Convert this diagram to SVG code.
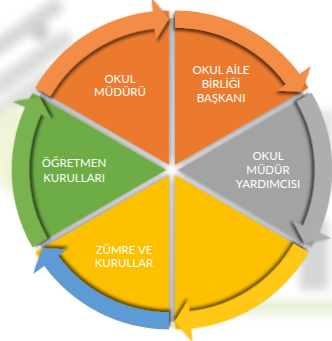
<svg xmlns="http://www.w3.org/2000/svg" xmlns:xlink="http://www.w3.org/1999/xlink" width="332" height="341" viewBox="0 0 332 341">
  <defs>
    <style>
      .lbl { font-family: Lato, "Liberation Sans", sans-serif; font-size: 11.5px; fill: #ffffff; text-anchor: middle; }
      .orange { fill: #EC7A2D; }
      .gray { fill: #A3A3A3; }
      .yellow { fill: #FDC000; }
      .green { fill: #6EAC45; }
      .blue { fill: #5B9BD5; }
      .bandorange { fill: #F38C45; }
      .bandgray { fill: #AEAEAE; }
      .bandyellow { fill: #FFC714; }
      .bandgreen { fill: #78B34F; }
    </style>
    <filter id="blur" x="-50%" y="-50%" width="200%" height="200%">
      <feGaussianBlur stdDeviation="4"/>
    </filter>
    <filter id="bandShadow" x="-20%" y="-20%" width="140%" height="140%">
      <feDropShadow dx="-1.6" dy="2.8" stdDeviation="1.8" flood-color="#000000" flood-opacity="0.6"/>
    </filter>
    <filter id="wedgeShadow" x="-20%" y="-20%" width="140%" height="140%">
      <feDropShadow dx="0" dy="1" stdDeviation="1.5" flood-color="#000000" flood-opacity="0.3"/>
    </filter>
    <radialGradient id="glow" cx="172" cy="170" r="152" gradientUnits="userSpaceOnUse">
      <stop offset="0" stop-color="#ffffff"/>
      <stop offset="0.1" stop-color="#d6d6d6"/>
      <stop offset="1" stop-color="#c4c4c4"/>
    </radialGradient>
    <!-- wedge spanning 0..60 degrees clockwise from up, apex at origin -->
    <path id="wedge" d="M0,0 L0,-154 A154,154 0 0 1 133.37,-77 Z"/>
    <!-- outer arrow band with head at 60 degrees -->
    <path id="band" d="M0,-154 A154,154 0 0 1 124.59,-90.52 L135.91,-98.75 L126.44,-73 L101.93,-74.06 L110.83,-80.53 A137,137 0 0 0 0,-137 Z"/>
  </defs>

  <rect x="0" y="0" width="332" height="341" fill="#ffffff"/>

  <!-- faded background photo -->
  <g id="background" filter="url(#blur)" opacity="0.85">
    <rect x="-20" y="20" width="90" height="16" rx="8" fill="#d0d0d0" transform="rotate(-35 25 28)"/>
    <rect x="-20" y="55" width="100" height="18" rx="9" fill="#d6d6d6" transform="rotate(-35 30 64)"/>
    <rect x="-25" y="90" width="90" height="16" rx="8" fill="#d8d8d8" transform="rotate(-35 20 98)"/>
    <circle cx="40" cy="32" r="9" fill="#c0c0c0"/>
    <ellipse cx="12" cy="150" rx="18" ry="45" fill="#eef3cf"/>
    <rect x="300" y="220" width="28" height="70" fill="#cfcfcf"/>
    <rect x="200" y="300" width="140" height="14" fill="#e3edcf"/>
    <rect x="305" y="110" width="30" height="40" fill="#e0e0e0"/>
  </g>

  <circle cx="172" cy="170" r="152" fill="url(#glow)"/>

  <g id="connectors"></g>

  <g id="node-okul-aile">
    <g transform="translate(175,164.8) rotate(0)">
      <use xlink:href="#wedge" class="orange" filter="url(#wedgeShadow)"/>
      <use xlink:href="#band" class="bandorange" filter="url(#bandShadow)"/>
    </g>
    <text class="lbl"><tspan x="221" y="74">OKUL AİLE</tspan><tspan x="221" y="88">BİRLİĞİ</tspan><tspan x="221" y="102">BAŞKANI</tspan></text>
  </g>

  <g id="node-mudur-yardimcisi">
    <g transform="translate(178,170) rotate(60)">
      <use xlink:href="#wedge" class="gray" filter="url(#wedgeShadow)"/>
      <use xlink:href="#band" class="bandgray" filter="url(#bandShadow)"/>
    </g>
    <text class="lbl"><tspan x="268" y="160">OKUL</tspan><tspan x="268" y="174">MÜDÜR</tspan><tspan x="268" y="188">YARDIMCISI</tspan></text>
  </g>

  <g id="node-yellow">
    <g transform="translate(175,175.2) rotate(120)">
      <use xlink:href="#wedge" class="yellow" filter="url(#wedgeShadow)"/>
      <use xlink:href="#band" class="bandyellow" filter="url(#bandShadow)"/>
    </g>
  </g>

  <g id="node-zumre">
    <g transform="translate(169,175.2) rotate(180)">
      <use xlink:href="#wedge" class="yellow" filter="url(#wedgeShadow)"/>
      <use xlink:href="#band" class="blue" filter="url(#bandShadow)"/>
    </g>
    <text class="lbl"><tspan x="124" y="254">ZÜMRE VE</tspan><tspan x="124" y="267">KURULLAR</tspan></text>
  </g>

  <g id="node-ogretmen">
    <g transform="translate(166,170) rotate(240)">
      <use xlink:href="#wedge" class="green" filter="url(#wedgeShadow)"/>
      <use xlink:href="#band" class="bandgreen" filter="url(#bandShadow)"/>
    </g>
    <text class="lbl"><tspan x="74" y="167">ÖĞRETMEN</tspan><tspan x="74" y="182">KURULLARI</tspan></text>
  </g>

  <g id="node-okul-muduru">
    <g transform="translate(169,164.8) rotate(300)">
      <use xlink:href="#wedge" class="orange" filter="url(#wedgeShadow)"/>
      <use xlink:href="#band" class="bandorange" filter="url(#bandShadow)"/>
    </g>
    <text class="lbl"><tspan x="120" y="83">OKUL</tspan><tspan x="120" y="96">MÜDÜRÜ</tspan></text>
  </g>
</svg>
